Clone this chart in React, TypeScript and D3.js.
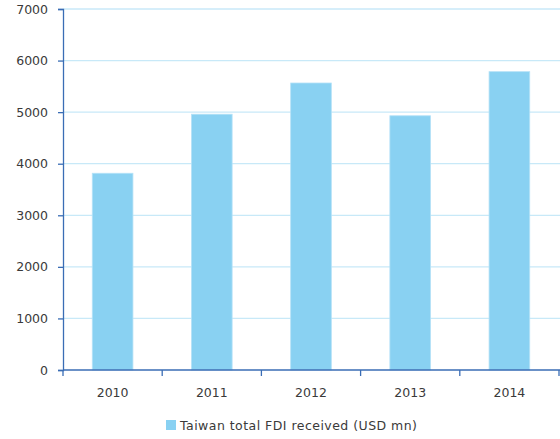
import React, { useEffect, useRef } from 'react';
import * as d3 from 'd3';

const years = ['2010', '2011', '2012', '2013', '2014'];
const fdiValues = [3815, 4960, 5565, 4930, 5785];
const yTicks = [0, 1000, 2000, 3000, 4000, 5000, 6000, 7000];
const seriesName = 'Taiwan total FDI received (USD mn)';

const W = 560;
const H = 439;
const margin = { top: 9, right: 1, bottom: 69, left: 63 };

const App = () => {
  const ref = useRef<SVGSVGElement>(null);

  useEffect(() => {
    const svg = d3.select(ref.current);
    svg.selectAll('*').remove();

    const x = d3.scaleBand().domain(years).range([margin.left, W - margin.right]).paddingInner(0.59).paddingOuter(0.295);
    const y = d3.scaleLinear().domain([0, 7000]).range([H - margin.bottom, margin.top]);
    const font = '"DejaVu Sans", sans-serif';
    const txt = '#3a3a3a';

    // grid
    svg.append('g')
      .selectAll('line')
      .data(yTicks.filter(d => d > 0))
      .join('line')
      .attr('x1', margin.left)
      .attr('x2', W)
      .attr('y1', d => y(d))
      .attr('y2', d => y(d))
      .attr('stroke', '#c8e9f8')
      .attr('stroke-width', 1.3);

    // bars
    svg.append('g')
      .selectAll('rect')
      .data(fdiValues)
      .join('rect')
      .attr('x', (d, i) => x(years[i]))
      .attr('y', d => y(d))
      .attr('width', x.bandwidth())
      .attr('height', d => y(0) - y(d))
      .attr('fill', '#89d1f2')
      .attr('stroke', '#b5e2f7')
      .attr('stroke-width', 0.8);

    // y axis
    const yAxis = svg.append('g')
      .attr('transform', `translate(${margin.left},0)`)
      .call(d3.axisLeft(y).tickValues(yTicks).tickSize(5).tickPadding(10).tickFormat(d3.format('d')));
    yAxis.select('.domain').attr('stroke', '#3a6db5').attr('stroke-width', 1.3);
    yAxis.selectAll('.tick line').attr('stroke', '#3a6db5').attr('stroke-width', 1.3);
    yAxis.selectAll('.tick text').attr('fill', txt).style('font-family', font).style('font-size', '12.5px');

    // x axis
    const step = x.step();
    const boundaries = d3.range(years.length + 1).map(i => margin.left + i * step);
    const xg = svg.append('g');
    xg.append('line')
      .attr('x1', margin.left)
      .attr('x2', W)
      .attr('y1', y(0))
      .attr('y2', y(0))
      .attr('stroke', '#3a6db5')
      .attr('stroke-width', 1.3);
    xg.selectAll('line.tk')
      .data(boundaries)
      .join('line')
      .attr('class', 'tk')
      .attr('x1', d => Math.min(d, W - 1))
      .attr('x2', d => Math.min(d, W - 1))
      .attr('y1', y(0))
      .attr('y2', y(0) + 6)
      .attr('stroke', '#3a6db5')
      .attr('stroke-width', 1.3);
    xg.selectAll('text')
      .data(years)
      .join('text')
      .attr('x', d => (x(d) ?? 0) + x.bandwidth() / 2)
      .attr('y', y(0) + 27)
      .attr('text-anchor', 'middle')
      .attr('fill', txt)
      .style('font-family', font)
      .style('font-size', '12.5px')
      .text(d => d);

    // legend
    const lg = svg.append('g').attr('transform', 'translate(166,420)');
    lg.append('rect').attr('width', 10).attr('height', 10).attr('fill', '#89d1f2');
    lg.append('text')
      .attr('x', 14)
      .attr('y', 10)
      .attr('fill', txt)
      .attr('textLength', 237)
      .style('font-family', font)
      .style('font-size', '12.5px')
      .text(seriesName);
  }, []);

  return (
    <svg ref={ref} width={W} height={H} style={{ position: 'absolute', left: 0, top: 0 }} />
  );
};

export default App;
